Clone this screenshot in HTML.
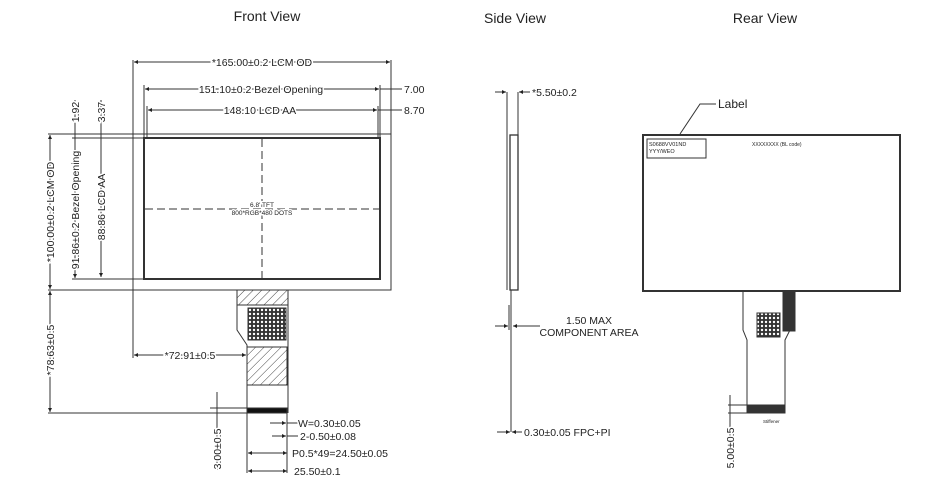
<!DOCTYPE html>
<html><head><style>body{margin:0;background:#fff}svg{display:block}text{font-family:"Liberation Sans",sans-serif;fill:#222}.d text{stroke:#fff;stroke-width:3px;paint-order:stroke}</style></head><body>
<svg width="930" height="489" viewBox="0 0 930 489" xmlns="http://www.w3.org/2000/svg">
<defs>
<pattern id="h" width="6" height="6" patternUnits="userSpaceOnUse" patternTransform="rotate(45)"><line x1="0" y1="0" x2="0" y2="6" stroke="#444" stroke-width="1"/></pattern>
<pattern id="m" width="4" height="4" patternUnits="userSpaceOnUse"><rect width="4" height="4" fill="#333"/><circle cx="2" cy="2" r="1.2" fill="#fff"/></pattern>
<marker id="a" viewBox="0 0 10 10" refX="10" refY="5" markerWidth="6" markerHeight="4" orient="auto-start-reverse"><path d="M0,0L10,5L0,10z" fill="#222"/></marker>
</defs>
<g font-size="14"><text x="267" y="21" text-anchor="middle">Front View</text><text x="515" y="23" text-anchor="middle">Side View</text><text x="765" y="23" text-anchor="middle">Rear View</text></g>
<g stroke="#333" fill="none" stroke-width="1">
<rect x="133" y="134" width="258" height="156"/>
<line x1="133" y1="60" x2="133" y2="134"/><line x1="391" y1="60" x2="391" y2="134"/>
<line x1="133" y1="290" x2="133" y2="358"/>
<rect x="144" y="138" width="236" height="141" stroke-width="2"/>
<line x1="144" y1="85" x2="144" y2="138"/><line x1="380" y1="85" x2="380" y2="138"/>
<line x1="147" y1="106" x2="147" y2="138"/><line x1="378" y1="106" x2="378" y2="138"/>
<line x1="262" y1="139" x2="262" y2="279" stroke-dasharray="8,4"/>
<line x1="145" y1="209" x2="379" y2="209" stroke-dasharray="8,4"/>
<line x1="48" y1="134" x2="133" y2="134"/><line x1="72" y1="138" x2="144" y2="138"/><line x1="72" y1="279" x2="144" y2="279"/>
<line x1="48" y1="290" x2="133" y2="290"/>
<line x1="134" y1="62" x2="390" y2="62" marker-start="url(#a)" marker-end="url(#a)"/>
<line x1="145" y1="89" x2="379" y2="89" marker-start="url(#a)" marker-end="url(#a)"/>
<line x1="380" y1="89" x2="402" y2="89"/>
<line x1="148" y1="110" x2="377" y2="110" marker-start="url(#a)" marker-end="url(#a)"/>
<line x1="378" y1="110" x2="402" y2="110"/>
<line x1="50" y1="135" x2="50" y2="289" marker-start="url(#a)" marker-end="url(#a)"/>
<line x1="75" y1="100" x2="75" y2="278" marker-end="url(#a)"/>
<line x1="101" y1="100" x2="101" y2="277" marker-end="url(#a)"/>
<line x1="50" y1="291" x2="50" y2="412" marker-start="url(#a)" marker-end="url(#a)"/>
<line x1="48" y1="413" x2="247" y2="413"/>
<line x1="134" y1="355" x2="246" y2="355" marker-start="url(#a)" marker-end="url(#a)"/>
<path d="M237,290 V330 L247,345 V413 M288,290 V413"/>
<rect x="237" y="290" width="51" height="15" fill="url(#h)"/>
<rect x="248" y="308" width="38" height="32" fill="url(#m)"/>
<rect x="247" y="347" width="40" height="38" fill="url(#h)"/>
<rect x="247" y="408" width="40" height="5" fill="#111"/>
<line x1="217" y1="392" x2="217" y2="470"/><line x1="210" y1="408" x2="247" y2="408"/>
<line x1="247" y1="413" x2="247" y2="473"/><line x1="287" y1="413" x2="287" y2="473"/>
<line x1="270" y1="423" x2="286" y2="423" marker-end="url(#a)"/><line x1="287" y1="423" x2="298" y2="423"/>
<line x1="272" y1="436" x2="286" y2="436" marker-end="url(#a)"/><line x1="287" y1="436" x2="298" y2="436"/>
<line x1="248" y1="453" x2="287" y2="453" marker-start="url(#a)" marker-end="url(#a)"/>
<line x1="248" y1="471" x2="287" y2="471" marker-start="url(#a)" marker-end="url(#a)"/>
<path d="M507,92 V290 M518,92 V135"/>
<rect x="510" y="135" width="8" height="155" stroke-width="1.3"/>
<line x1="511" y1="290" x2="511" y2="432"/><line x1="509" y1="305" x2="509" y2="330"/>
<line x1="495" y1="92" x2="506" y2="92" marker-end="url(#a)"/><line x1="519" y1="92" x2="530" y2="92" marker-start="url(#a)"/>
<line x1="495" y1="326" x2="508" y2="326" marker-end="url(#a)"/><line x1="513" y1="326" x2="540" y2="326" marker-start="url(#a)"/>
<line x1="497" y1="432" x2="510" y2="432" marker-end="url(#a)"/><line x1="512" y1="432" x2="522" y2="432" marker-start="url(#a)"/>
<rect x="643" y="135" width="257" height="156" stroke-width="2"/>
<rect x="647" y="139" width="59" height="19"/>
<path d="M680,134 L700,104 H716"/>
<path d="M743,291 V330 L747,340 V412 M790,291 V330 L785,340 V412"/>
<rect x="757" y="313" width="23" height="24" fill="url(#m)"/>
<rect x="783" y="291" width="12" height="40" fill="#333"/>
<rect x="747" y="405" width="38" height="8" fill="#333"/>
<line x1="730" y1="395" x2="730" y2="445"/><line x1="728" y1="405" x2="747" y2="405"/><line x1="728" y1="413" x2="747" y2="413"/>
</g>
<g font-size="10.5" class="d">
<text x="262" y="66" text-anchor="middle">*165.00±0.2 LCM OD</text>
<text x="261" y="93" text-anchor="middle">151.10±0.2 Bezel Opening</text>
<text x="260" y="114" text-anchor="middle">148.10 LCD AA</text>
<text x="404" y="93">7.00</text><text x="404" y="114">8.70</text>
<text transform="translate(54,212) rotate(-90)" text-anchor="middle">*100.00±0.2 LCM OD</text>
<text transform="translate(79,210) rotate(-90)" text-anchor="middle">91.86±0.2 Bezel Opening</text>
<text transform="translate(105,207) rotate(-90)" text-anchor="middle">88.86 LCD AA</text>
<text transform="translate(79,112) rotate(-90)" text-anchor="middle">1.92</text>
<text transform="translate(105,112) rotate(-90)" text-anchor="middle">3.37</text>
<text transform="translate(54,350) rotate(-90)" text-anchor="middle">*78.63±0.5</text>
<text x="190" y="359" text-anchor="middle">*72.91±0.5</text>
<text transform="translate(221,449) rotate(-90)" text-anchor="middle">3.00±0.5</text>
<text x="298" y="427">W=0.30±0.05</text><text x="300" y="440">2-0.50±0.08</text>
<text x="292" y="457">P0.5*49=24.50±0.05</text><text x="294" y="475">25.50±0.1</text>
<text x="532" y="96">*5.50±0.2</text>
<text x="589" y="324" text-anchor="middle">1.50 MAX</text>
<text x="589" y="336" text-anchor="middle">COMPONENT AREA</text>
<text x="524" y="436">0.30±0.05 FPC+PI</text>
<text x="718" y="108" font-size="12">Label</text>
<text transform="translate(734,448) rotate(-90)" text-anchor="middle">5.00±0.5</text>
</g>
<g font-size="6.5" class="d">
<text x="262" y="207" text-anchor="middle">6.8' TFT</text>
<text x="262" y="215" text-anchor="middle">800*RGB*480 DOTS</text>
</g>
<g font-size="6.5">
<text x="649" y="146" font-size="5.5">S0688VV01ND</text><text x="649" y="153" font-size="5.5">YYY/WEO</text>
<text x="752" y="146" font-size="5">XXXXXXXX (BL code)</text>
<text x="763" y="423" font-size="4.5">Stiffener</text>
</g>
</svg>
</body></html>
